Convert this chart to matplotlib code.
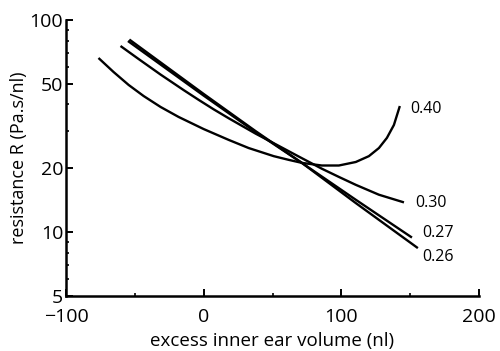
import matplotlib
matplotlib.use('Agg')
import matplotlib.pyplot as plt
from matplotlib.ticker import FixedLocator, NullFormatter

plt.rcParams['font.family'] = ['Open Sans', 'DejaVu Sans']

# values (x in nl, R in Pa.s/nl)
x_040 = [-76.4, -65.5, -54.5, -43.6, -31.3, -18.2, 0, 18.2, 32.7, 50.9, 61.8, 71.3,
         85.8, 98.2, 110.5, 120.0, 127.3, 133.1, 138.2, 142.5]
r_040 = [66.2, 56.9, 49.4, 43.8, 38.9, 34.9, 30.6, 27.2, 24.9, 22.8, 21.9, 21.2,
         20.6, 20.6, 21.4, 22.8, 24.9, 27.8, 32.0, 39.3]

x_030 = [-60.4, -47.3, -31.3, -14.5, -3.6, 7.3, 18.2, 37.8, 54.5, 69.1, 85.8, 98.2,
         110.5, 127.3, 145.5]
r_030 = [75.4, 65.5, 55.3, 46.7, 42.0, 37.9, 34.4, 29.1, 25.5, 22.7, 19.9, 18.2,
         16.7, 15.0, 13.8]

x_027 = [-55.0, 0, 37.8, 71.3, 110.5, 151.3]
r_027 = [79.6, 44.0, 29.6, 21.2, 14.2, 9.42]

x_026 = [-54.0, 0, 37.8, 71.3, 110.5, 155.6]
r_026 = [80.9, 44.8, 29.9, 21.2, 13.7, 8.40]

curve_labels = ['0.40', '0.30', '0.27', '0.26']
label_x = [149.8, 153.5, 158.5, 158.5]
label_r = [38.0, 13.7, 9.9, 7.6]

y_major = [5, 10, 20, 50, 100]
y_minor = [6, 7, 8, 9, 30, 40, 60, 70, 80, 90]
x_major = [-100, 0, 100, 200]
x_minor = [-50, 50, 150]

fig = plt.figure(figsize=(5.0, 3.51), dpi=100)
ax = fig.add_axes([0.132, 0.157, 0.826, 0.786])

for xs, rs in [(x_040, r_040), (x_030, r_030), (x_027, r_027), (x_026, r_026)]:
    ax.plot(xs, rs, color='black', lw=1.7, solid_capstyle='butt', solid_joinstyle='round')

for txt, lx, ly in zip(curve_labels, label_x, label_r):
    ax.text(lx, ly, txt, fontsize=11.5, va='center', ha='left')

ax.set_yscale('log')
ax.set_xlim(-100, 200)
ax.set_ylim(5, 100)
ax.yaxis.set_major_locator(FixedLocator(y_major))
ax.yaxis.set_minor_locator(FixedLocator(y_minor))
ax.set_yticklabels([str(v) for v in y_major])
ax.yaxis.set_minor_formatter(NullFormatter())
ax.xaxis.set_major_locator(FixedLocator(x_major))
ax.xaxis.set_minor_locator(FixedLocator(x_minor))

for side in ['top', 'right']:
    ax.spines[side].set_visible(False)
for side in ['left', 'bottom']:
    ax.spines[side].set_linewidth(1.8)

ax.tick_params(which='major', direction='in', length=5, width=1.4, labelsize=14)
ax.tick_params(axis='x', which='major', pad=9)
ax.tick_params(axis='y', which='major', pad=2)
ax.tick_params(which='minor', direction='in', length=2.5, width=1.2)

ax.set_xlabel('excess inner ear volume (nl)', fontsize=13.5, labelpad=4)
ax.set_ylabel('resistance R (Pa.s/nl)', fontsize=13, labelpad=1)

fig.savefig('out.png', dpi=100)
